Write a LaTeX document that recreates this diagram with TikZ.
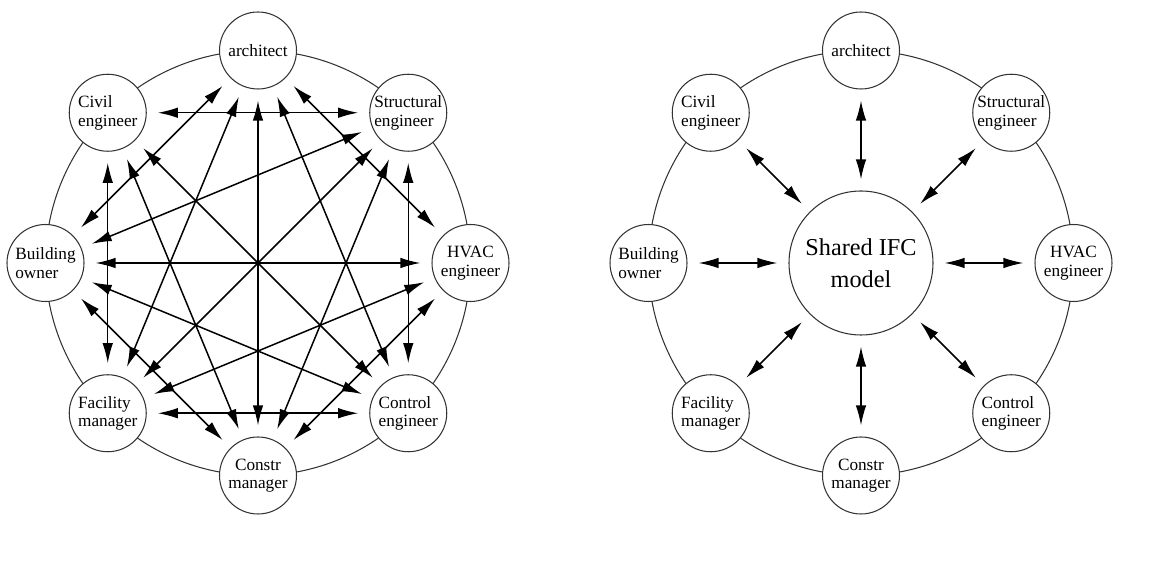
\documentclass[tikz,border=0pt]{standalone}
\usepackage{fontspec}
\setmainfont{Liberation Serif}
\usepackage{tikz}
\usetikzlibrary{arrows.meta}
\tikzset{>={Latex[length=4mm,width=2.1mm]}}
\tikzset{
  party/.style={circle, draw=black!80, line width=0.6pt, fill=white, inner sep=0pt,
    minimum size=1.54cm, align=center, font=\fontsize{9.8}{10.6}\selectfont},
  hub/.style={circle, draw=black!80, line width=0.6pt, fill=white, inner sep=0pt,
    minimum size=2.88cm, align=center, font=\fontsize{13.8}{18}\selectfont},
  ring/.style={draw=black!80, line width=0.6pt},
  link/.style={<->, line width=0.85pt, shorten >=2.2mm, shorten <=2.2mm}
}

\begin{document}
\begin{tikzpicture}
\useasboundingbox (0,0) rectangle (23.4,11.26);
% the two rings
\draw[ring] (5.16,6) circle (4.25);
\draw[ring] (17.22,6) circle (4.25);

% left: everybody talks to everybody
\node[party] (archL) at (5.16,10.25) {architect};
\node[party, align=left] (civL) at (2.155,9.005) {Civil\\engineer};
\node[party, align=left] (strL) at (8.165,9.005) {Structural\\engineer};
\node[party, align=left] (ownL) at (0.91,6) {Building\\owner};
\node[party] (hvacL) at (9.41,6) {HVAC\\engineer};
\node[party, align=left] (facL) at (2.155,2.995) {Facility\\manager};
\node[party, align=left] (conL) at (8.165,2.995) {Control\\engineer};
\node[party] (cmL) at (5.16,1.75) {Constr\\manager};

\draw[link] (archL) -- (ownL);
\draw[link] (archL) -- (facL);
\draw[link] (archL) -- (cmL);
\draw[link] (archL) -- (conL);
\draw[link] (archL) -- (hvacL);
\draw[link] (civL) -- (strL);
\draw[link] (civL) -- (facL);
\draw[link] (civL) -- (cmL);
\draw[link] (civL) -- (conL);
\draw[link] (strL) -- (ownL);
\draw[link] (strL) -- (facL);
\draw[link] (strL) -- (cmL);
\draw[link] (strL) -- (conL);
\draw[link] (ownL) -- (hvacL);
\draw[link] (ownL) -- (conL);
\draw[link] (ownL) -- (cmL);
\draw[link] (hvacL) -- (facL);
\draw[link] (hvacL) -- (cmL);
\draw[link] (facL) -- (conL);

% right: everybody talks to the model
\node[hub] (ifc) at (17.22,6) {Shared IFC\\model};
\node[party] (archR) at (17.22,10.25) {architect};
\node[party, align=left] (civR) at (14.215,9.005) {Civil\\engineer};
\node[party, align=left] (strR) at (20.225,9.005) {Structural\\engineer};
\node[party, align=left] (ownR) at (12.97,6) {Building\\owner};
\node[party] (hvacR) at (21.47,6) {HVAC\\engineer};
\node[party, align=left] (facR) at (14.215,2.995) {Facility\\manager};
\node[party, align=left] (conR) at (20.225,2.995) {Control\\engineer};
\node[party] (cmR) at (17.22,1.75) {Constr\\manager};

\draw[link] (ifc) -- (archR);
\draw[link] (ifc) -- (civR);
\draw[link] (ifc) -- (strR);
\draw[link] (ifc) -- (ownR);
\draw[link] (ifc) -- (hvacR);
\draw[link] (ifc) -- (facR);
\draw[link] (ifc) -- (conR);
\draw[link] (ifc) -- (cmR);
\end{tikzpicture}
\end{document}
